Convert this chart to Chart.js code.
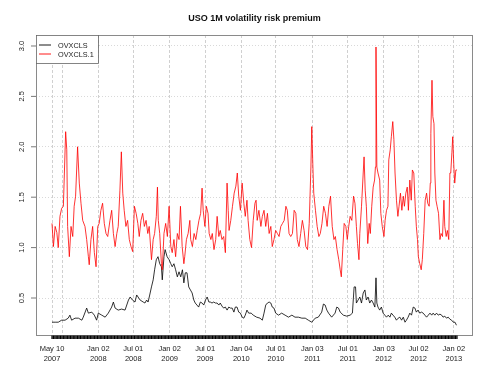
<!DOCTYPE html>
<html><head><meta charset="utf-8">
<script src="https://cdn.jsdelivr.net/npm/chart.js@4.4.1/dist/chart.umd.min.js"></script>
<style>html,body{margin:0;padding:0;background:#fff}#wrap{width:500px;height:375px}</style>
</head><body><div id="wrap"><canvas id="c" width="500" height="375"></canvas></div>
<script>
const chartTitle = 'USO 1M volatility risk premium';
const seriesNames = ['OVXCLS', 'OVXCLS.1'];
// trading-day index of each labelled date (label for Jul 02 2007 is dropped by overlap, as in the original)
const xTickIdx = [0, 36, 163, 286, 414, 539, 666, 788, 916, 1041, 1167, 1290, 1414];
const xTickLabels = [['May 10','2007'],['',''],['Jan 02','2008'],['Jul 01','2008'],['Jan 02','2009'],['Jul 01','2009'],
  ['Jan 04','2010'],['Jul 01','2010'],['Jan 03','2011'],['Jul 01','2011'],['Jan 03','2012'],['Jul 02','2012'],['Jan 02','2013']];
const yTicks = [0.5, 1.0, 1.5, 2.0, 2.5, 3.0];
const lastIdx = 1425;

// [trading-day index, value]
const ovxcls = [[0,0.26],[11,0.26],[22,0.26],[34,0.28],[46,0.28],[57,0.30],[63,0.33],[69,0.28],[81,0.30],[93,0.30],[105,0.28],[110,0.31],[122,0.40],[128,0.35],[140,0.36],[149,0.33],[157,0.28],[163,0.35],[175,0.33],[187,0.31],[198,0.35],[210,0.41],[216,0.46],[222,0.40],[233,0.38],[245,0.39],[257,0.38],[269,0.48],[275,0.51],[283,0.48],[292,0.46],[298,0.53],[310,0.48],[321,0.46],[327,0.45],[333,0.48],[338,0.46],[343,0.52],[350,0.61],[356,0.68],[361,0.78],[367,0.88],[373,0.91],[379,0.84],[385,0.81],[388,0.68],[394,0.91],[398,0.98],[405,0.91],[412,0.88],[418,0.84],[423,0.81],[429,0.84],[435,0.78],[441,0.71],[447,0.76],[453,0.71],[459,0.78],[464,0.65],[469,0.75],[475,0.75],[481,0.61],[487,0.58],[493,0.55],[499,0.48],[504,0.45],[510,0.43],[516,0.41],[522,0.46],[528,0.45],[534,0.43],[540,0.48],[546,0.51],[552,0.46],[557,0.46],[563,0.45],[569,0.46],[575,0.45],[581,0.45],[587,0.43],[592,0.45],[598,0.42],[604,0.40],[610,0.41],[616,0.38],[622,0.41],[628,0.40],[634,0.40],[640,0.36],[645,0.41],[651,0.41],[657,0.36],[663,0.35],[669,0.31],[675,0.30],[680,0.33],[686,0.38],[692,0.35],[701,0.35],[708,0.33],[720,0.31],[732,0.30],[740,0.28],[746,0.35],[752,0.43],[758,0.45],[764,0.46],[770,0.45],[775,0.41],[781,0.40],[787,0.35],[797,0.33],[808,0.35],[820,0.33],[832,0.31],[844,0.33],[855,0.31],[867,0.31],[879,0.30],[891,0.30],[902,0.28],[914,0.26],[926,0.30],[937,0.31],[949,0.36],[955,0.44],[961,0.43],[967,0.38],[973,0.35],[984,0.31],[996,0.35],[1002,0.41],[1008,0.40],[1014,0.36],[1025,0.33],[1037,0.32],[1049,0.33],[1057,0.35],[1063,0.61],[1068,0.61],[1071,0.45],[1077,0.48],[1083,0.51],[1089,0.45],[1095,0.55],[1101,0.58],[1106,0.48],[1112,0.51],[1118,0.45],[1124,0.48],[1130,0.45],[1136,0.41],[1140,0.70],[1143,0.45],[1147,0.41],[1153,0.38],[1159,0.41],[1165,0.35],[1171,0.33],[1177,0.31],[1183,0.33],[1189,0.31],[1194,0.35],[1200,0.33],[1206,0.31],[1212,0.28],[1218,0.30],[1224,0.31],[1230,0.28],[1236,0.31],[1242,0.26],[1247,0.28],[1253,0.31],[1259,0.35],[1265,0.33],[1271,0.41],[1277,0.40],[1282,0.36],[1288,0.38],[1294,0.35],[1300,0.36],[1306,0.35],[1312,0.33],[1318,0.31],[1324,0.33],[1330,0.35],[1336,0.33],[1341,0.35],[1347,0.33],[1353,0.35],[1359,0.33],[1365,0.34],[1371,0.33],[1376,0.31],[1382,0.32],[1388,0.30],[1394,0.31],[1400,0.29],[1406,0.28],[1412,0.26],[1418,0.26],[1423,0.23]];

const ovxcls1 = [[0,1.24],[5,1.01],[11,1.21],[17,1.15],[22,1.00],[28,1.31],[34,1.39],[40,1.41],[48,2.15],[52,1.97],[55,1.21],[61,0.91],[67,1.21],[73,1.11],[78,1.41],[83,1.51],[90,2.00],[96,1.64],[102,1.44],[108,1.27],[116,1.21],[122,1.08],[128,0.91],[131,0.83],[137,1.08],[143,1.21],[149,0.95],[155,0.81],[161,1.21],[166,1.24],[172,1.37],[178,1.44],[184,1.24],[190,1.14],[196,1.11],[204,1.27],[210,1.37],[216,1.14],[222,1.01],[228,1.14],[233,1.21],[239,1.57],[244,1.95],[249,1.54],[254,1.37],[260,1.21],[266,1.27],[272,1.08],[278,1.01],[284,0.96],[290,1.41],[296,1.34],[302,1.24],[307,1.11],[313,1.27],[319,1.34],[325,1.21],[331,1.27],[337,1.14],[342,1.21],[350,0.88],[356,1.08],[361,1.14],[367,1.31],[371,1.60],[374,1.27],[379,1.14],[385,0.84],[388,0.78],[394,1.14],[400,1.24],[406,1.11],[412,1.41],[418,1.01],[423,0.95],[429,1.08],[435,0.91],[441,1.14],[447,1.08],[452,1.41],[458,1.01],[464,0.84],[467,0.91],[473,1.08],[479,1.14],[485,1.27],[488,1.08],[494,1.01],[500,1.14],[506,1.08],[511,1.17],[517,1.27],[523,1.34],[528,1.59],[532,1.37],[538,1.21],[543,1.41],[549,1.34],[553,1.14],[559,1.08],[564,1.14],[570,0.98],[576,1.08],[581,1.31],[587,1.11],[592,1.17],[598,1.08],[604,1.11],[610,0.95],[616,1.64],[620,1.37],[623,1.17],[629,1.27],[635,1.41],[641,1.54],[647,1.61],[652,1.74],[657,1.51],[663,1.37],[669,1.64],[675,1.44],[680,1.31],[686,1.47],[690,1.27],[696,1.08],[702,1.00],[708,1.27],[714,1.44],[718,1.47],[722,1.27],[728,1.37],[735,1.21],[740,1.31],[746,1.37],[752,1.21],[758,1.34],[764,1.14],[770,1.21],[775,1.01],[781,1.08],[787,1.17],[793,1.14],[799,1.11],[805,1.21],[811,1.24],[817,1.27],[823,1.41],[828,1.37],[834,1.14],[840,1.11],[846,1.14],[852,1.37],[858,1.34],[863,1.08],[869,1.01],[875,1.14],[881,1.27],[887,1.17],[893,1.01],[899,0.98],[905,1.24],[911,1.80],[914,2.20],[918,1.80],[921,1.54],[927,1.37],[933,1.21],[939,1.11],[944,1.14],[950,1.24],[956,1.41],[962,1.34],[968,1.21],[974,1.41],[980,1.51],[986,1.21],[992,1.08],[997,1.11],[1003,0.98],[1009,0.88],[1014,0.78],[1018,0.71],[1023,0.98],[1028,1.24],[1034,1.21],[1039,1.08],[1044,1.21],[1049,1.31],[1055,1.27],[1061,1.51],[1066,1.44],[1071,1.21],[1075,1.04],[1080,0.88],[1083,1.14],[1089,1.41],[1095,1.74],[1098,1.90],[1102,1.57],[1106,1.41],[1111,1.04],[1116,1.24],[1120,1.14],[1125,1.41],[1130,1.60],[1135,1.67],[1138,1.80],[1140,2.99],[1143,1.80],[1147,1.74],[1153,1.67],[1157,1.34],[1162,1.21],[1168,1.11],[1172,1.27],[1177,1.37],[1182,1.41],[1185,1.87],[1190,1.97],[1194,2.10],[1199,2.25],[1203,2.07],[1207,1.74],[1212,1.47],[1217,1.31],[1221,1.41],[1226,1.54],[1231,1.37],[1236,1.51],[1240,1.41],[1245,1.54],[1250,1.60],[1254,1.37],[1259,1.67],[1264,1.47],[1268,1.77],[1273,1.74],[1278,1.41],[1282,1.21],[1286,1.08],[1289,0.91],[1294,0.84],[1299,0.78],[1303,0.88],[1308,1.14],[1313,1.47],[1318,1.54],[1322,1.44],[1327,1.41],[1331,1.64],[1333,2.13],[1337,2.66],[1340,2.30],[1344,2.23],[1347,1.74],[1351,1.47],[1355,1.41],[1360,1.34],[1365,1.08],[1369,1.14],[1374,1.11],[1379,1.47],[1382,1.21],[1387,1.11],[1391,1.17],[1396,1.08],[1400,1.74],[1403,1.74],[1407,1.94],[1410,2.10],[1414,1.80],[1417,1.64],[1421,1.77],[1425,1.77]];

const FONT = '"Liberation Sans", Arial, Helvetica, sans-serif';
const toXY = arr => arr.map(p => ({x: p[0], y: p[1]}));

const rStyle = {
  id: 'rStyle',
  beforeDraw(chart) {
    const ctx = chart.ctx;
    ctx.save(); ctx.fillStyle = '#fff'; ctx.fillRect(0, 0, chart.width, chart.height); ctx.restore();
  },
  afterDraw(chart) {
    const ctx = chart.ctx, a = chart.chartArea, xs = chart.scales.x, ys = chart.scales.y;
    ctx.save();
    // plot box
    ctx.strokeStyle = '#8a8a8a'; ctx.lineWidth = 1;
    ctx.strokeRect(Math.round(a.left) + 0.5, Math.round(a.top) + 0.5, Math.round(a.right - a.left) - 1, Math.round(a.bottom - a.top));
    // y ticks and rotated labels
    ctx.fillStyle = '#222'; ctx.strokeStyle = '#555'; ctx.lineWidth = 0.8;
    ctx.font = '7.5px ' + FONT; ctx.textAlign = 'center'; ctx.textBaseline = 'middle';
    yTicks.forEach(v => {
      const py = ys.getPixelForValue(v);
      ctx.beginPath(); ctx.moveTo(a.left - 5, py); ctx.lineTo(a.left, py); ctx.stroke();
      ctx.save(); ctx.translate(a.left - 14, py); ctx.rotate(-Math.PI / 2);
      ctx.fillText(v.toFixed(1), 0, 0); ctx.restore();
    });
    // minor tick rug along the time axis (weekly)
    ctx.strokeStyle = '#000'; ctx.lineWidth = 1.2;
    ctx.beginPath();
    for (let i = 0; i <= lastIdx; i += 5) {
      const px = xs.getPixelForValue(i);
      ctx.moveTo(px, a.bottom + 0.5); ctx.lineTo(px, a.bottom + 4);
    }
    ctx.stroke();
    // title
    ctx.fillStyle = '#111'; ctx.font = 'bold 9px ' + FONT; ctx.textAlign = 'center'; ctx.textBaseline = 'middle';
    ctx.fillText(chartTitle, (a.left + a.right) / 2, 18.5);
    // legend
    const lx = a.left, ly = a.top, lw = 62, lh = 28;
    ctx.fillStyle = '#fff'; ctx.fillRect(lx, ly, lw, lh);
    ctx.strokeStyle = '#666'; ctx.lineWidth = 0.8;
    ctx.strokeRect(lx + 0.5, ly + 0.5, lw, lh);
    ctx.font = '7.3px ' + FONT; ctx.textAlign = 'left';
    chart.data.datasets.forEach((ds, k) => {
      const yy = ly + 10 + k * 9;
      ctx.strokeStyle = ds.borderColor; ctx.lineWidth = 0.9;
      ctx.beginPath(); ctx.moveTo(lx + 3, yy); ctx.lineTo(lx + 15, yy); ctx.stroke();
      ctx.fillStyle = '#222'; ctx.fillText(ds.label, lx + 22, yy + 0.5);
    });
    ctx.restore();
  }
};

new Chart(document.getElementById('c'), {
  type: 'line',
  data: {
    datasets: [
      {label: seriesNames[0], data: toXY(ovxcls), borderColor: '#000', borderWidth: 0.8, pointRadius: 0, tension: 0, order: 2},
      {label: seriesNames[1], data: toXY(ovxcls1), borderColor: '#ff0000', borderWidth: 0.8, pointRadius: 0, tension: 0, order: 1}
    ]
  },
  options: {
    responsive: false, animation: false, devicePixelRatio: 1,
    layout: {padding: {left: 0, right: 27, top: 35, bottom: 0}},
    plugins: {legend: {display: false}, title: {display: false}, tooltip: {enabled: false}},
    scales: {
      x: {
        type: 'linear', min: -56.3, max: 1481.3,
        afterBuildTicks: s => { s.ticks = xTickIdx.map(v => ({value: v})); },
        afterFit: s => { s.height = 40; },
        ticks: {autoSkip: false, maxRotation: 0, minRotation: 0, padding: 9.5, color: '#222',
          font: {family: FONT, size: 7.5, lineHeight: 1.25},
          callback: (v, i) => xTickLabels[i]},
        grid: {color: '#c4c4c4', lineWidth: 0.8, drawTicks: false},
        border: {display: false, dash: [3, 2]}
      },
      y: {
        min: 0.133, max: 3.109,
        afterBuildTicks: s => { s.ticks = yTicks.map(v => ({value: v})); },
        afterFit: s => { s.width = 36; },
        ticks: {display: false},
        grid: {color: '#cfcfcf', lineWidth: 0.8, drawTicks: false},
        border: {display: false, dash: [1, 2]}
      }
    }
  },
  plugins: [rStyle]
});
</script></body></html>
